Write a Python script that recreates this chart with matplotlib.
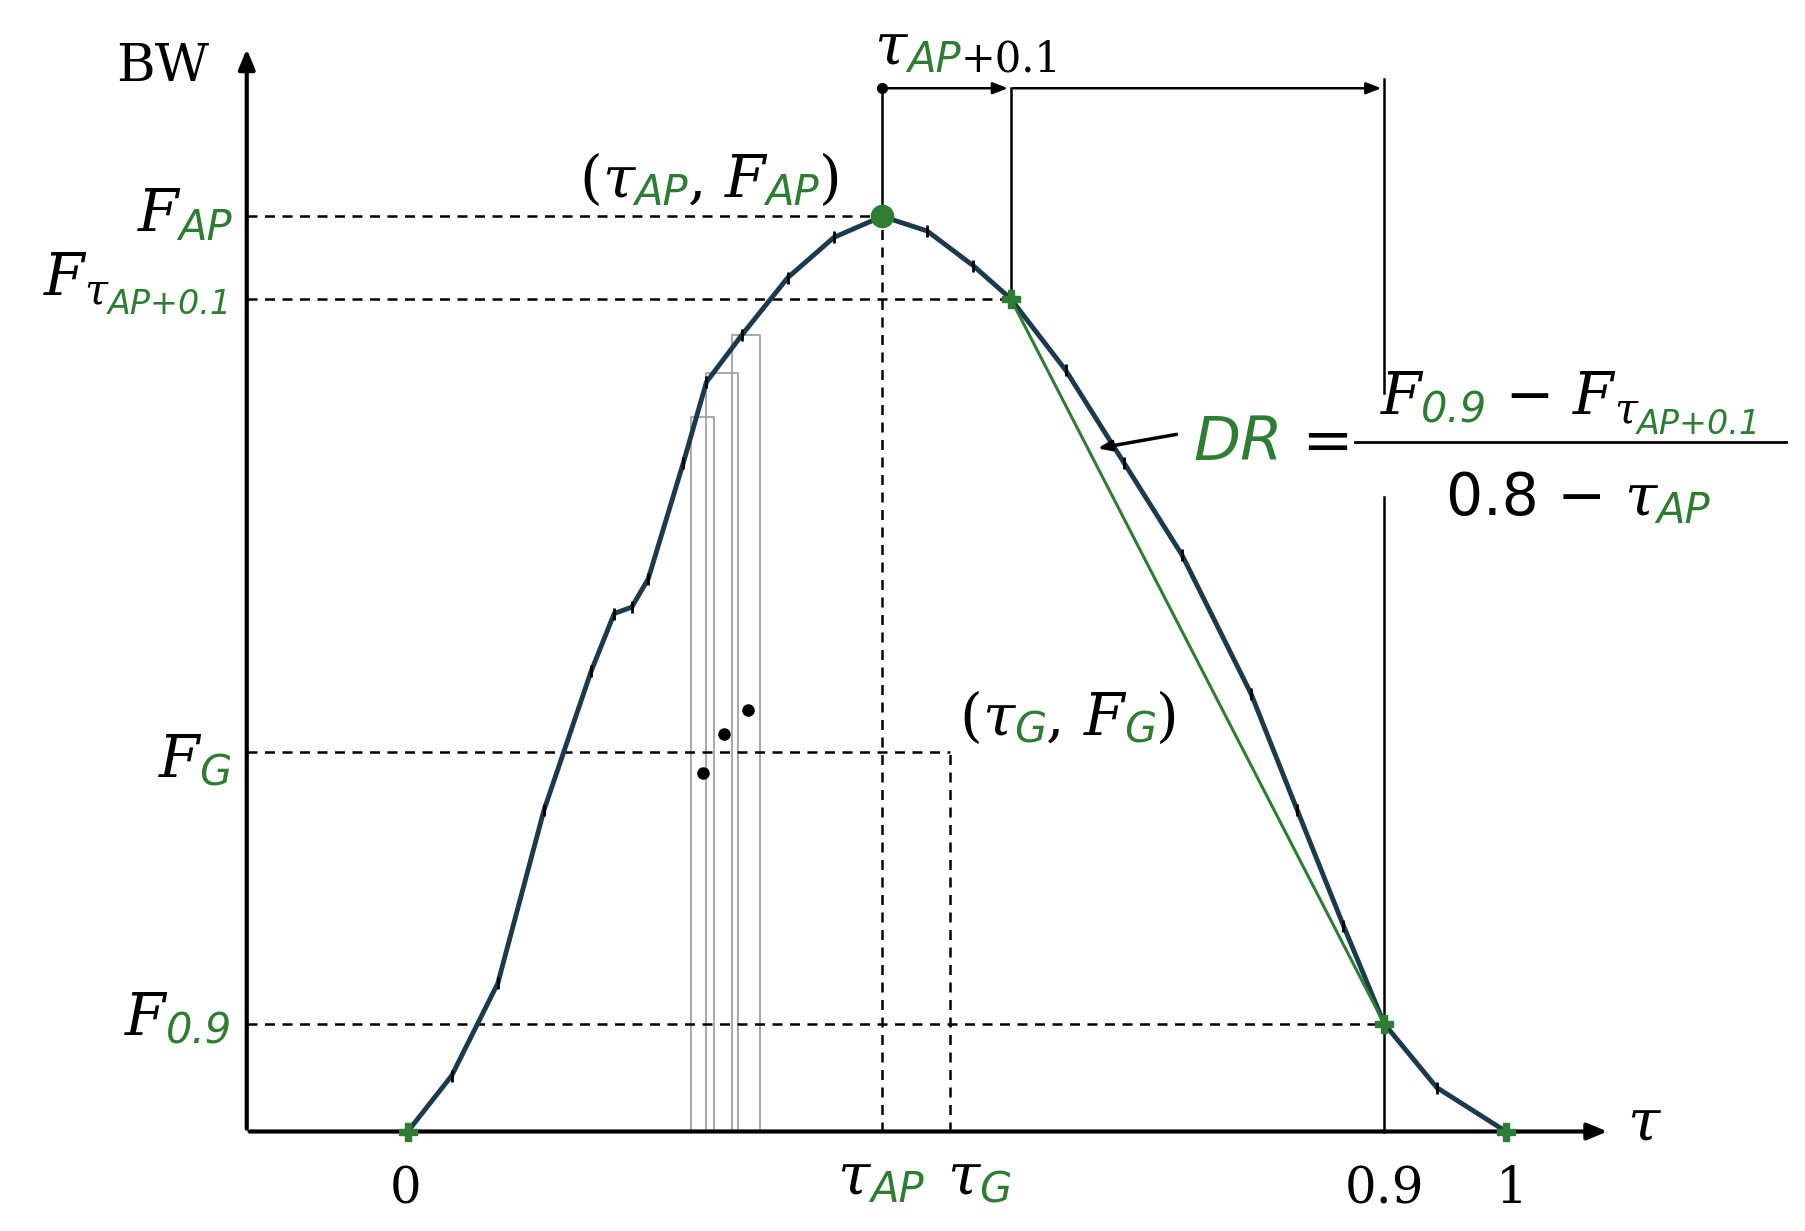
import matplotlib
matplotlib.use("Agg")
import matplotlib.pyplot as plt
from matplotlib.transforms import offset_copy

# curve (tau, BW normalised to F_AP = 1)
tau = [0, 0.040, 0.082, 0.124, 0.167, 0.188, 0.204, 0.219, 0.251, 0.272, 0.304,
       0.346, 0.388, 0.432, 0.473, 0.515, 0.549, 0.599, 0.652, 0.705, 0.768,
       0.810, 0.852, 0.889, 0.937, 1.0]
bw = [0, 0.061, 0.162, 0.351, 0.503, 0.566, 0.573, 0.604, 0.731, 0.819, 0.870,
      0.933, 0.977, 1.0, 0.984, 0.946, 0.910, 0.832, 0.731, 0.630, 0.478,
      0.351, 0.225, 0.118, 0.048, 0]

tau_ap, f_ap = 0.432, 1.0
tau_ap1, f_ap1 = 0.549, 0.910
tau_09, f_09 = 0.889, 0.118
tau_g, f_g = 0.494, 0.415
tau_top = 1.14

bar_left = [0.258, 0.272, 0.295]
bar_right = [0.279, 0.301, 0.321]
bar_top = [0.781, 0.829, 0.870]
dot_tau = [0.269, 0.288, 0.310]
dot_bw = [0.392, 0.434, 0.461]

GREEN = "#2e7d32"
W, H = 1559, 1064


def px(x, y):
  return (x - 352) / 948, (978 - y) / 791


fig = plt.figure(figsize=(18.06, 12.31), dpi=100)
ax = fig.add_axes([0, 0, 1, 1])
x0, y0 = px(0, H)
x1, y1 = px(W, 0)
ax.set_xlim(x0, x1)
ax.set_ylim(y0, y1)
ax.axis("off")
renderer = fig.canvas.get_renderer()

SERIF = dict(family="DejaVu Serif", style="italic")
SANS = dict(family="DejaVu Sans", style="italic")


def rich(x, y, parts, ha="left"):
  """parts: (text, color, size, dy_points, fontdict)"""
  widths = []
  for s, c, size, dy, fd in parts:
    t = ax.text(x, y, s, fontsize=size, **fd)
    widths.append(t.get_window_extent(renderer).width)
    t.remove()
  total = sum(widths)
  off = -total if ha == "right" else (-total / 2 if ha == "center" else 0)
  for (s, c, size, dy, fd), w in zip(parts, widths):
    tr = offset_copy(ax.transData, fig=fig, x=off * 72 / fig.dpi, y=dy, units="points")
    ax.text(x, y, s, fontsize=size, color=c, transform=tr, va="baseline", **fd)
    off += w


# axes
ax0x, _ = px(213, 0)
ax.annotate("", xy=(ax0x, px(0, 40)[1]), xytext=(ax0x, 0),
            arrowprops=dict(arrowstyle="-|>,head_width=0.5,head_length=1.2", color="black", lw=3))
ax.annotate("", xy=(px(1390, 0)[0], 0), xytext=(ax0x, 0),
            arrowprops=dict(arrowstyle="-|>,head_width=0.5,head_length=1.2", color="black", lw=3))

# bars and points
for l, r, t in zip(bar_left, bar_right, bar_top):
  ax.plot([l, l, r, r], [0, t, t, 0], color="#999999", lw=1.2)
ax.plot(dot_tau, dot_bw, "o", color="black", ms=8)

# dashed guides
kw = dict(color="black", ls=(0, (4, 3)), lw=1.8)
ax.plot([ax0x, tau_ap], [f_ap, f_ap], **kw)
ax.plot([ax0x, tau_ap1], [f_ap1, f_ap1], **kw)
ax.plot([ax0x, tau_g], [f_g, f_g], **kw)
ax.plot([ax0x, tau_09], [f_09, f_09], **kw)
ax.plot([tau_ap, tau_ap], [0, f_ap], **kw)
ax.plot([tau_g, tau_g], [0, f_g], **kw)

# curve
ax.plot(tau, bw, color="#1b3a4b", lw=3.5, zorder=3)
ax.plot(tau, bw, "|", color="black", ms=9, mew=2, zorder=4)

# DR line and points
ax.plot([tau_ap1, tau_09], [f_ap1, f_09], color=GREEN, lw=2.2, zorder=5)
ax.plot([tau_ap], [f_ap], "o", color=GREEN, ms=16, zorder=6)
ax.plot([tau_ap1, tau_09, 0, 1.0], [f_ap1, f_09, 0, 0], "P", color=GREEN, ms=13, zorder=6)

# top brackets
ax.plot([tau_ap, tau_ap], [f_ap, tau_top], color="black", lw=1.8)
ax.plot([tau_ap], [tau_top], "o", color="black", ms=7)
ax.plot([tau_ap1, tau_ap1], [f_ap1, tau_top], color="black", lw=1.8)
ax.plot([tau_09, tau_09], [0, px(0, 430)[1]], color="black", lw=1.8)
ax.plot([tau_09, tau_09], [px(0, 340)[1], tau_top + 0.01], color="black", lw=1.8)
arr = dict(arrowstyle="-|>,head_width=0.35,head_length=0.9", color="black", lw=1.8)
ax.annotate("", xy=(tau_ap1, tau_top), xytext=(tau_ap, tau_top), arrowprops=arr)
ax.annotate("", xy=(tau_09, tau_top), xytext=(tau_ap1, tau_top), arrowprops=arr)

# DR arrow
ax.annotate("", xy=px(945, 388), xytext=px(1018, 375),
            arrowprops=dict(arrowstyle="-|>,head_width=0.3,head_length=0.8", color="black", lw=2.5))

B, G = "black", GREEN
MAIN, SUB, SUB2 = 42, 30, 24

rich(*px(140, 70), [("BW", B, 38, 0, dict(family="DejaVu Serif"))], ha="center")
rich(*px(200, 200), [("F", B, MAIN, 0, SERIF), ("AP", G, SUB, -6, SANS)], ha="right")
rich(*px(200, 255), [("F", B, MAIN, 0, SERIF), ("τ", B, SUB, -6, SERIF),
                     ("AP+0.1", G, SUB2, -14, SANS)], ha="right")
rich(*px(200, 672), [("F", B, MAIN, 0, SERIF), ("G", G, SUB, -6, SANS)], ha="right")
rich(*px(200, 895), [("F", B, MAIN, 0, SERIF), ("0.9", G, SUB, -6, SANS)], ha="right")

tick = dict(family="DejaVu Serif")
rich(*px(350, 1040), [("0", B, 36, 0, tick)], ha="center")
rich(*px(1195, 1040), [("0.9", B, 36, 0, tick)], ha="center")
rich(*px(1305, 1040), [("1", B, 36, 0, tick)], ha="center")
rich(*px(760, 1032), [("τ", B, MAIN, 0, SERIF), ("AP", G, SUB, -6, SANS)], ha="center")
rich(*px(845, 1032), [("τ", B, MAIN, 0, SERIF), ("G", G, SUB, -6, SANS)], ha="center")
rich(*px(1405, 985), [("τ", B, MAIN, 0, SERIF)])

rich(*px(755, 55), [("τ", B, MAIN, 0, SERIF), ("AP", G, SUB, -6, SANS), ("+0.1", B, SUB, -6, tick)])
rich(*px(500, 170), [("(", B, MAIN, 0, tick), ("τ", B, MAIN, 0, SERIF), ("AP", G, SUB, -6, SANS),
                     (", ", B, MAIN, 0, tick), ("F", B, MAIN, 0, SERIF), ("AP", G, SUB, -6, SANS),
                     (")", B, MAIN, 0, tick)])
rich(*px(828, 635), [("(", B, MAIN, 0, tick), ("τ", B, MAIN, 0, SERIF), ("G", G, SUB, -6, SANS),
                     (", ", B, MAIN, 0, tick), ("F", B, MAIN, 0, SERIF), ("G", G, SUB, -6, SANS),
                     (")", B, MAIN, 0, tick)])

# DR formula
rich(*px(1030, 398), [("DR", G, 44, 0, SANS), (" = ", B, 44, 0, dict(family="DejaVu Sans"))])
ax.plot([px(1170, 0)[0], px(1542, 0)[0]], [px(0, 382)[1]] * 2, color="black", lw=2)
rich(*px(1356, 358), [("F", B, MAIN, 0, SERIF), ("0.9", G, SUB, -6, SANS),
                      (" − ", B, MAIN, 0, dict(family="DejaVu Sans")),
                      ("F", B, MAIN, 0, SERIF), ("τ", B, SUB, -6, SERIF),
                      ("AP+0.1", G, SUB2, -14, SANS)], ha="center")
rich(*px(1362, 445), [("0.8 − ", B, MAIN, 0, dict(family="DejaVu Sans")),
                      ("τ", B, MAIN, 0, SERIF), ("AP", G, SUB, -6, SANS)], ha="center")

fig.savefig("out.png", dpi=100)
